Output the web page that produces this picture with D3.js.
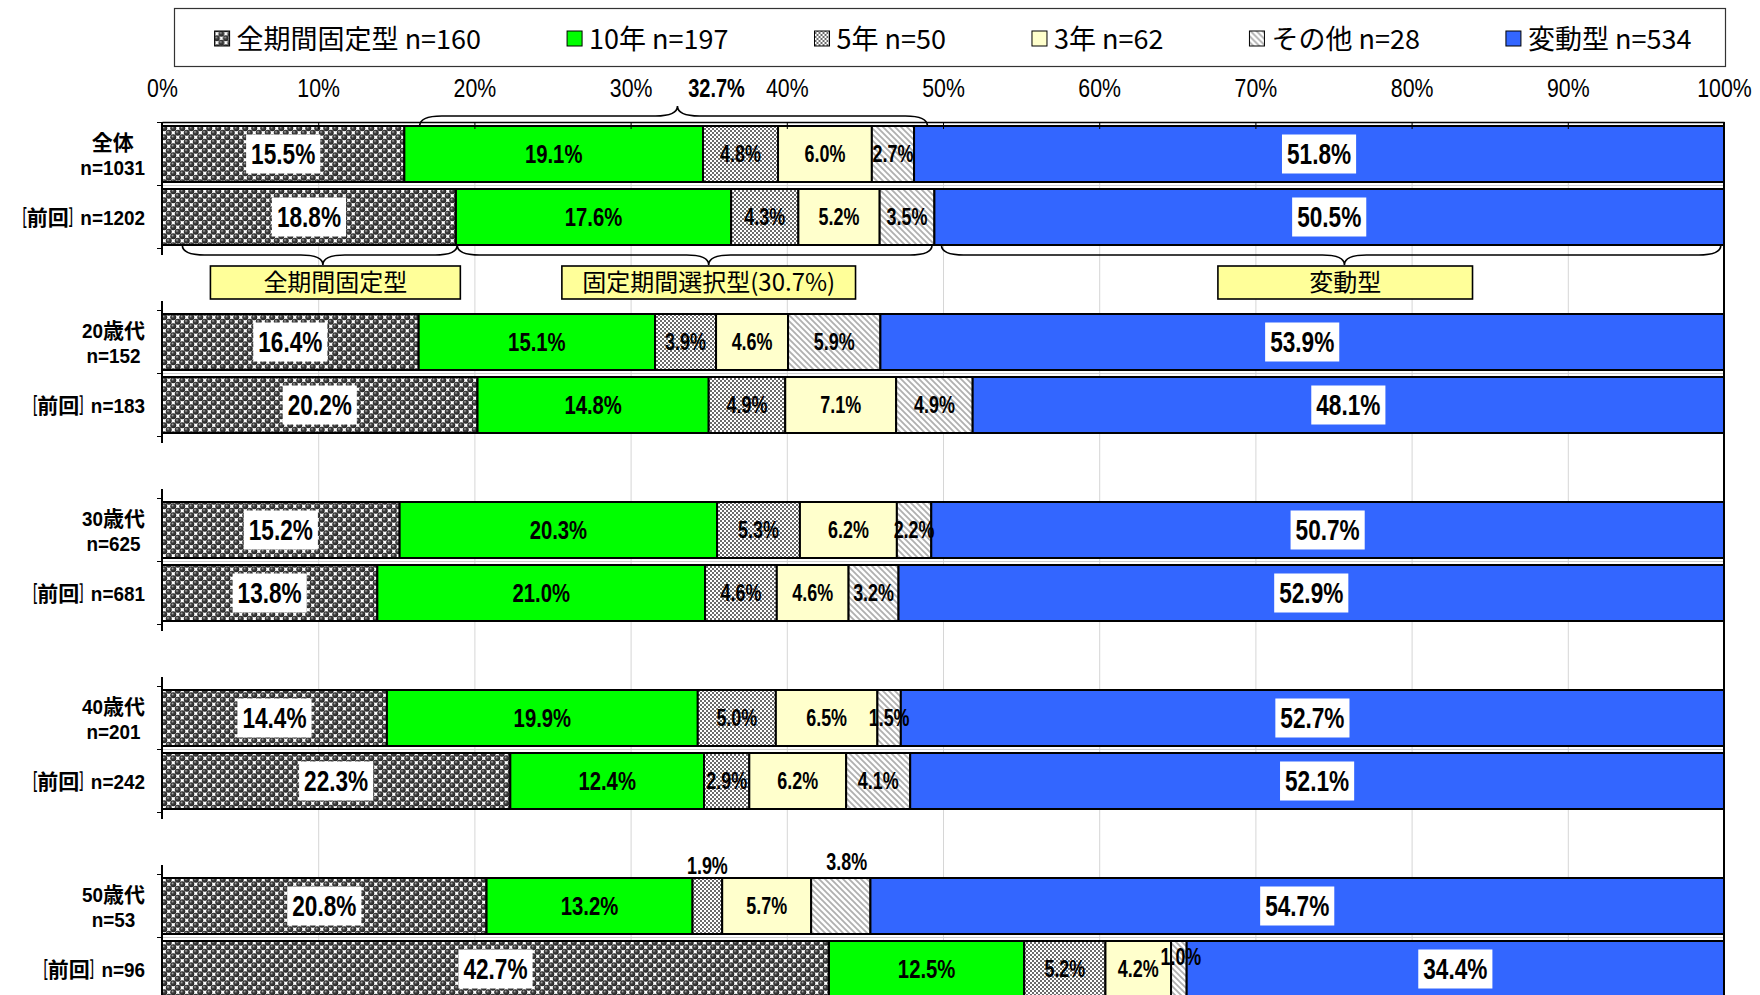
<!DOCTYPE html>
<html>
<head>
<meta charset="utf-8">
<script src="https://cdn.jsdelivr.net/npm/d3@7"></script>
<style>
  html, body { margin: 0; padding: 0; background: #fff; }
  svg { display: block; }
  text { white-space: pre; }
</style>
</head>
<body>
<svg id="chart" width="1760" height="995"></svg>
<script>
// Row groups (age bands) with their sample sizes, current and previous survey
const groups = ["全体", "20歳代", "30歳代", "40歳代", "50歳代"];
const groupN = ["n=1031", "n=152", "n=625", "n=201", "n=53"];
const prevN  = ["n=1202", "n=183", "n=681", "n=242", "n=96"];

// Series in legend order, with overall counts
const seriesNames = ["全期間固定型", "10年", "5年", "3年", "その他", "変動型"];
const seriesN = [160, 197, 50, 62, 28, 534];

// Shares (%) per row: [group current, group previous] x 5 groups
const fixedAll  = [15.5, 18.8, 16.4, 20.2, 15.2, 13.8, 14.4, 22.3, 20.8, 42.7];
const tenYear   = [19.1, 17.6, 15.1, 14.8, 20.3, 21.0, 19.9, 12.4, 13.2, 12.5];
const fiveYear  = [4.8, 4.3, 3.9, 4.9, 5.3, 4.6, 5.0, 2.9, 1.9, 5.2];
const threeYear = [6.0, 5.2, 4.6, 7.1, 6.2, 4.6, 6.5, 6.2, 5.7, 4.2];
const otherTerm = [2.7, 3.5, 5.9, 4.9, 2.2, 3.2, 1.5, 4.1, 3.8, 1.0];
const variable  = [51.8, 50.5, 53.9, 48.1, 50.7, 52.9, 52.7, 52.1, 54.7, 34.4];

// Axis tick labels (%)
const tickValues = [0, 10, 20, 30, 40, 50, 60, 70, 80, 90, 100];

// Bracket captions
const bracketTopLabel = "32.7%";
const noteTexts = ["全期間固定型", "固定期間選択型(30.7%)", "変動型"];

// ---------------------------------------------------------------------------
const keys = ["fixed", "y10", "y5", "y3", "other", "variable"];
const seriesValues = [fixedAll, tenYear, fiveYear, threeYear, otherTerm, variable];

const rowsData = d3.range(fixedAll.length).map(i => {
  const o = { i };
  keys.forEach((k, j) => { o[k] = seriesValues[j][i]; });
  return o;
});
const stacked = d3.stack().keys(keys).offset(d3.stackOffsetExpand)(rowsData);

const svg = d3.select("#chart");
const W = 1760, H = 995;
const plotL = 162, plotR = 1724, plotTop = 122;

const x = d3.scaleLinear().domain([0, 1]).range([plotL, plotR]);
const groupY = d3.scaleBand().domain(groups).range([126, 126 + 188 * groups.length]);
const rowBand = d3.scaleBand().domain([0, 1]).range([0, 119]).paddingInner(0.111);
const barH = rowBand.bandwidth();
const rowTop = i => groupY(groups[Math.floor(i / 2)]) + rowBand(i % 2);

const latinFont = "'Liberation Sans', Arial, sans-serif";
const jpFont = "'Noto Sans CJK JP', 'Noto Sans', sans-serif";
const NARROW = 0.78;   // horizontal squeeze for the condensed numerals

// Draws a string as runs of Latin (condensed), bracket and CJK glyphs, laid out side by side.
function mixedText(parent, str, opt) {
  const { x: px, y: py, anchor = "start", size, weight = "normal", sx = NARROW,
          cjkSize = size, bracketScale = 0.55 } = opt;
  const g = parent.append("g");
  const runs = str.match(/[\u0000-\u00ff]+|[［］]|[^\u0000-\u00ff［］]+/g) || [];
  let cur = 0;
  runs.forEach(r => {
    const latin = /^[\u0000-\u00ff]/.test(r);
    const bracket = /^[［］]$/.test(r);
    const t = g.append("text")
      .attr("dy", "0.36em")
      .attr("font-family", latin ? latinFont : jpFont)
      .attr("font-size", latin ? size : cjkSize)
      .attr("font-weight", weight)
      .attr("fill", "#000")
      .text(r);
    const s = latin ? sx : bracket ? bracketScale : 1;
    const w = t.node().getComputedTextLength() * s;
    t.attr("transform", `translate(${cur},0) scale(${s},1)`);
    cur += w;
  });
  const off = anchor === "end" ? -cur : anchor === "middle" ? -cur / 2 : 0;
  g.attr("transform", `translate(${px + off},${py})`);
  return cur;
}

// ---- patterns ---------------------------------------------------------------
const defs = svg.append("defs");
const grad = defs.append("radialGradient").attr("id", "g-sphere")
  .attr("cx", "50%").attr("cy", "50%").attr("r", "55%").attr("fx", "35%").attr("fy", "32%");
grad.append("stop").attr("offset", "0").attr("stop-color", "#b8b8b8");
grad.append("stop").attr("offset", "0.4").attr("stop-color", "#444");
grad.append("stop").attr("offset", "1").attr("stop-color", "#1a1a1a");

const pFixed = defs.append("pattern").attr("id", "p-fixed")
  .attr("width", 9).attr("height", 9).attr("patternUnits", "userSpaceOnUse");
pFixed.append("rect").attr("width", 9).attr("height", 9).attr("fill", "#fff");
[[2.25, 2.25], [6.75, 6.75], [-2.25, 6.75], [11.25, 2.25], [6.75, -2.25], [2.25, 11.25]].forEach(([cx, cy]) =>
  pFixed.append("circle").attr("cx", cx).attr("cy", cy).attr("r", 3.0).attr("fill", "url(#g-sphere)"));

const pFive = defs.append("pattern").attr("id", "p-five")
  .attr("width", 4).attr("height", 4).attr("patternUnits", "userSpaceOnUse");
pFive.append("rect").attr("width", 4).attr("height", 4).attr("fill", "#fff");
pFive.append("rect").attr("x", 0).attr("y", 0).attr("width", 2).attr("height", 2).attr("fill", "#6a6a6a");
pFive.append("rect").attr("x", 2).attr("y", 2).attr("width", 2).attr("height", 2).attr("fill", "#6a6a6a");

const pOther = defs.append("pattern").attr("id", "p-other")
  .attr("width", 6).attr("height", 6).attr("patternUnits", "userSpaceOnUse");
pOther.append("rect").attr("width", 6).attr("height", 6).attr("fill", "#fff");
pOther.append("path").attr("d", "M-1,-1 L7,7 M-1,5 L1,7 M5,-1 L7,1")
  .attr("stroke", "#b0b0b0").attr("stroke-width", 1.8);

const fills = {
  fixed: "url(#p-fixed)", y10: "#00ff00", y5: "url(#p-five)",
  y3: "#ffffcc", other: "url(#p-other)", variable: "#3366ff"
};

// ---- legend -----------------------------------------------------------------
svg.append("rect").attr("x", 174.5).attr("y", 8.5).attr("width", 1551).attr("height", 58)
  .attr("fill", "#fff").attr("stroke", "#333").attr("stroke-width", 1.2);

const legend = svg.append("g");
const legendItems = legend.selectAll("g").data(keys).join("g");
legendItems.append("rect").attr("width", 15).attr("height", 15).attr("y", 31)
  .attr("fill", d => fills[d]).attr("stroke", "#000").attr("stroke-width", 1);
legendItems.append("text")
  .attr("x", 22).attr("y", 39).attr("dy", "0.36em")
  .attr("font-family", jpFont).attr("font-size", 27).attr("fill", "#000")
  .text((d, j) => `${seriesNames[j]} n=${seriesN[j]}`);
// flow layout, centred in the legend box
const legendGap = 86;
const widths = legendItems.nodes().map(n => 22 + d3.select(n).select("text").node().getComputedTextLength());
const total = d3.sum(widths) + legendGap * (widths.length - 1);
let lx = 953 - total / 2;
legendItems.each(function (d, j) {
  d3.select(this).attr("transform", `translate(${lx},0)`);
  lx += widths[j] + legendGap;
});

// ---- grid lines ---------------------------------------------------------------
svg.append("g").selectAll("line").data(tickValues.filter(t => t > 0 && t < 100)).join("line")
  .attr("x1", d => x(d / 100) + 0.5).attr("x2", d => x(d / 100) + 0.5)
  .attr("y1", plotTop).attr("y2", H)
  .attr("stroke", "#d6d6d6").attr("stroke-width", 1);

// light separators between the paired bars
svg.append("g").selectAll("line").data(groups).join("line")
  .attr("x1", plotL).attr("x2", plotR)
  .attr("y1", d => groupY(d) + 59.5).attr("y2", d => groupY(d) + 59.5)
  .attr("stroke", "#cfcfcf").attr("stroke-width", 1);

// ---- bars -------------------------------------------------------------------
const layers = svg.append("g").selectAll("g").data(stacked).join("g")
  .attr("fill", s => fills[s.key]);
layers.selectAll("rect").data(s => s).join("rect")
  .attr("x", d => x(d[0]))
  .attr("width", d => x(d[1]) - x(d[0]))
  .attr("y", d => rowTop(d.data.i))
  .attr("height", barH)
  .attr("stroke", "#000").attr("stroke-width", 2);

// ---- axes -------------------------------------------------------------------
const xAxis = d3.axisTop(x)
  .tickValues(tickValues.map(t => t / 100))
  .tickFormat(d3.format(".0%"))
  .tickSizeInner(-7).tickSizeOuter(0).tickPadding(25);
const axG = svg.append("g").attr("transform", `translate(0,${plotTop})`).call(xAxis);
axG.select(".domain").attr("stroke", "#000").attr("stroke-width", 1.5);
axG.selectAll(".tick line").attr("stroke", "#000").attr("stroke-width", 1);
axG.selectAll(".tick text").attr("font-family", latinFont).attr("font-size", 26)
  .attr("fill", "#000").attr("transform", "scale(0.82,1)");

// right-hand frame line at 100%
svg.append("line").attr("x1", plotR).attr("x2", plotR).attr("y1", plotTop).attr("y2", H)
  .attr("stroke", "#000").attr("stroke-width", 2);

// left (category) axis, one segment per group
const leftAx = svg.append("g");
groups.forEach((g, gi) => {
  const top = groupY(g);
  leftAx.append("line").attr("x1", plotL).attr("x2", plotL)
    .attr("y1", gi === 0 ? plotTop : top - 13).attr("y2", top + 129)
    .attr("stroke", "#000").attr("stroke-width", 2);
  [top - 3.5, top + 59.5, top + 122.5].forEach(ty =>
    leftAx.append("line").attr("x1", plotL - 5).attr("x2", plotL).attr("y1", ty).attr("y2", ty)
      .attr("stroke", "#000").attr("stroke-width", 1));
});

// ---- category labels ----------------------------------------------------------
const catG = svg.append("g");
const catRight = 145;
const catOpt = { size: 21, cjkSize: 21, weight: "bold", sx: 0.9 };
groups.forEach((g, gi) => {
  const cy = groupY(g) + barH / 2;
  // measure both lines, then centre them inside a right-aligned block
  const probe = catG.append("g").attr("opacity", 0);
  const w1 = mixedText(probe, g, { ...catOpt, x: 0, y: 0 });
  const w2 = mixedText(probe, groupN[gi], { ...catOpt, x: 0, y: 0 });
  probe.remove();
  const bw = Math.max(w1, w2);
  mixedText(catG, g, { ...catOpt, x: catRight - bw / 2, y: cy - 12, anchor: "middle" });
  mixedText(catG, groupN[gi], { ...catOpt, x: catRight - bw / 2, y: cy + 13, anchor: "middle" });
  mixedText(catG, "［前回］" + prevN[gi], {
    ...catOpt, x: catRight, y: groupY(g) + rowBand(1) + barH / 2, anchor: "end"
  });
});

// ---- value labels -------------------------------------------------------------
const labelSize = { fixed: 29, y10: 26, y5: 23, y3: 23, other: 23, variable: 29 };
const boxed = new Set(["fixed", "variable"]);
// offsets for labels that do not fit inside their segment
const labelNudge = {
  "8-y5": [0, -40], "8-other": [6, -44], "9-other": [2, -12]
};
const fmt = d3.format(".1f");
const labG = svg.append("g");
stacked.forEach(s => {
  s.forEach(d => {
    const i = d.data.i;
    const v = d.data[s.key];
    const [dx, dy] = labelNudge[`${i}-${s.key}`] || [0, 0];
    const cx = (x(d[0]) + x(d[1])) / 2 + dx;
    const cy = rowTop(i) + barH / 2 + dy;
    const g = labG.append("g").attr("transform", `translate(${cx},${cy})`);
    const t = g.append("text")
      .attr("dy", "0.36em")
      .attr("text-anchor", "middle")
      .attr("transform", `scale(${NARROW},1)`)
      .attr("font-family", latinFont).attr("font-weight", "bold")
      .attr("font-size", labelSize[s.key]).attr("fill", "#000")
      .text(fmt(v) + "%");
    if (boxed.has(s.key)) {
      const w = t.node().getComputedTextLength() * NARROW;
      g.insert("rect", "text")
        .attr("x", -w / 2 - 5).attr("y", -19.5)
        .attr("width", w + 10).attr("height", 39).attr("fill", "#fff");
    }
  });
});

// ---- brackets and captions ------------------------------------------------------
function bracePath(x1, x2, xt, y0, dir) {
  const h = 20, r = 22;
  const mid = y0 + dir * h / 2, tip = y0 + dir * h;
  return `M${x1},${y0} Q${x1},${mid} ${x1 + r},${mid} L${xt - r},${mid} Q${xt},${mid} ${xt},${tip}` +
         ` Q${xt},${mid} ${xt + r},${mid} L${x2 - r},${mid} Q${x2},${mid} ${x2},${y0}`;
}
const braces = [
  { from: 0.165, to: 0.49, tip: 0.33, y: rowTop(0), dir: -1 },
  { from: 0.013, to: 0.189, tip: 0.103, y: rowTop(1) + barH, dir: 1 },
  { from: 0.189, to: 0.493, tip: 0.350, y: rowTop(1) + barH, dir: 1 },
  { from: 0.499, to: 0.998, tip: 0.757, y: rowTop(1) + barH, dir: 1 }
];
svg.append("g").selectAll("path").data(braces).join("path")
  .attr("d", b => bracePath(x(b.from), x(b.to), x(b.tip), b.y, b.dir))
  .attr("fill", "none").attr("stroke", "#000").attr("stroke-width", 1.6);

svg.append("g").attr("transform", `translate(${x(0.355)},88)`)
  .append("text").attr("dy", "0.36em").attr("transform", "scale(0.8,1)")
  .attr("text-anchor", "middle").attr("font-family", latinFont).attr("font-weight", "bold")
  .attr("font-size", 25).attr("fill", "#000").text(bracketTopLabel);

const notes = [
  { from: 0.031, to: 0.191 },
  { from: 0.256, to: 0.444 },
  { from: 0.676, to: 0.839 }
];
const noteG = svg.append("g").selectAll("g").data(notes).join("g");
noteG.append("rect")
  .attr("x", n => x(n.from)).attr("width", n => x(n.to) - x(n.from))
  .attr("y", 266).attr("height", 33)
  .attr("fill", "#ffff99").attr("stroke", "#000").attr("stroke-width", 1.6);
noteG.append("text")
  .attr("x", n => (x(n.from) + x(n.to)) / 2).attr("y", 282.5).attr("dy", "0.36em")
  .attr("text-anchor", "middle").attr("font-family", jpFont).attr("font-size", 24).attr("fill", "#000")
  .text((n, j) => noteTexts[j]);
</script>
</body>
</html>
